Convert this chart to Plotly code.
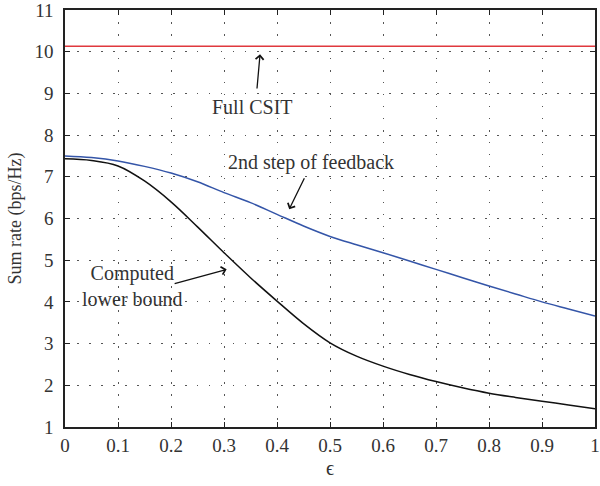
import plotly.graph_objects as go

eps = [0, 0.05, 0.1, 0.15, 0.2, 0.25, 0.3, 0.35, 0.4, 0.45, 0.5,
       0.55, 0.6, 0.65, 0.7, 0.75, 0.8, 0.85, 0.9, 0.95, 1.0]
full_csit = [10.13] * len(eps)
second_step = [7.50, 7.46, 7.38, 7.25, 7.09, 6.88, 6.62, 6.38, 6.10, 5.82, 5.57,
               5.37, 5.18, 4.98, 4.78, 4.58, 4.38, 4.19, 4.00, 3.83, 3.66]
lower_bound = [7.43, 7.39, 7.26, 6.90, 6.40, 5.80, 5.18, 4.58, 4.02, 3.48, 3.02,
               2.70, 2.46, 2.26, 2.09, 1.94, 1.81, 1.71, 1.62, 1.53, 1.44]
x_ticks = [0, 0.1, 0.2, 0.3, 0.4, 0.5, 0.6, 0.7, 0.8, 0.9, 1]
x_tick_text = ["0", "0.1", "0.2", "0.3", "0.4", "0.5", "0.6", "0.7", "0.8", "0.9", "1"]
y_ticks = [1, 2, 3, 4, 5, 6, 7, 8, 9, 10, 11]

FONT = "Liberation Serif"

fig = go.Figure()
fig.add_trace(go.Scatter(x=eps, y=full_csit, mode="lines",
                         line=dict(color="#e0393e", width=1.5), showlegend=False))
fig.add_trace(go.Scatter(x=eps, y=second_step, mode="lines",
                         line=dict(color="#3455a8", width=1.5, shape="spline"), showlegend=False))
fig.add_trace(go.Scatter(x=eps, y=lower_bound, mode="lines",
                         line=dict(color="#111111", width=1.5, shape="spline"), showlegend=False))

ann_font = dict(family=FONT, size=20, color="#333333")
arrow = dict(showarrow=True, arrowhead=4, arrowsize=1.2, arrowwidth=1.3,
             arrowcolor="#111111", axref="x", ayref="y", xref="x", yref="y")

fig.add_annotation(x=0.368, y=9.94, ax=0.362, ay=9.08, text="", **arrow)
fig.add_annotation(x=0.354, y=8.68, text="Full CSIT", showarrow=False, font=ann_font,
                   xref="x", yref="y")
fig.add_annotation(x=0.423, y=6.22, ax=0.453, ay=7.0, text="", **arrow)
fig.add_annotation(x=0.464, y=7.34, text="2nd step of feedback", showarrow=False,
                   font=ann_font, xref="x", yref="y")
fig.add_annotation(x=0.305, y=4.78, ax=0.204, ay=4.43, text="", **arrow)
fig.add_annotation(x=0.127, y=4.38, text="Computed<br>lower bound", showarrow=False,
                   font=ann_font, xref="x", yref="y", align="center")

axis_common = dict(
    showline=True, linecolor="#222222", linewidth=1.5, mirror="ticks",
    ticks="inside", ticklen=5, tickwidth=1.3, tickcolor="#222222",
    showgrid=True, gridcolor="#555555", gridwidth=1, griddash="1.5px,10.5px",
    zeroline=False, tickfont=dict(family=FONT, size=19, color="#333333"),
    automargin=False, ticklabeloverflow="allow",
)

fig.update_xaxes(range=[0, 1], tickvals=x_ticks, ticktext=x_tick_text,
                 title=dict(text="ϵ", font=dict(family=FONT, size=20, color="#333333"),
                            standoff=6),
                 ticklabelstandoff=0, **axis_common)
fig.update_yaxes(range=[1, 11], tickvals=y_ticks,
                 title=dict(text="Sum rate (bps/Hz)", font=dict(family=FONT, size=18, color="#333333"),
                            standoff=8),
                 ticklabelstandoff=6, **axis_common)

fig.update_layout(width=600, height=486, plot_bgcolor="white", paper_bgcolor="white",
                  margin=dict(l=65, r=5, t=10, b=59))

# remove the browser's default 8px body margin so the figure sits at the page origin
fig.write_html("out.html", config={"displayModeBar": False},
               post_script="document.body.style.margin='0px';")
